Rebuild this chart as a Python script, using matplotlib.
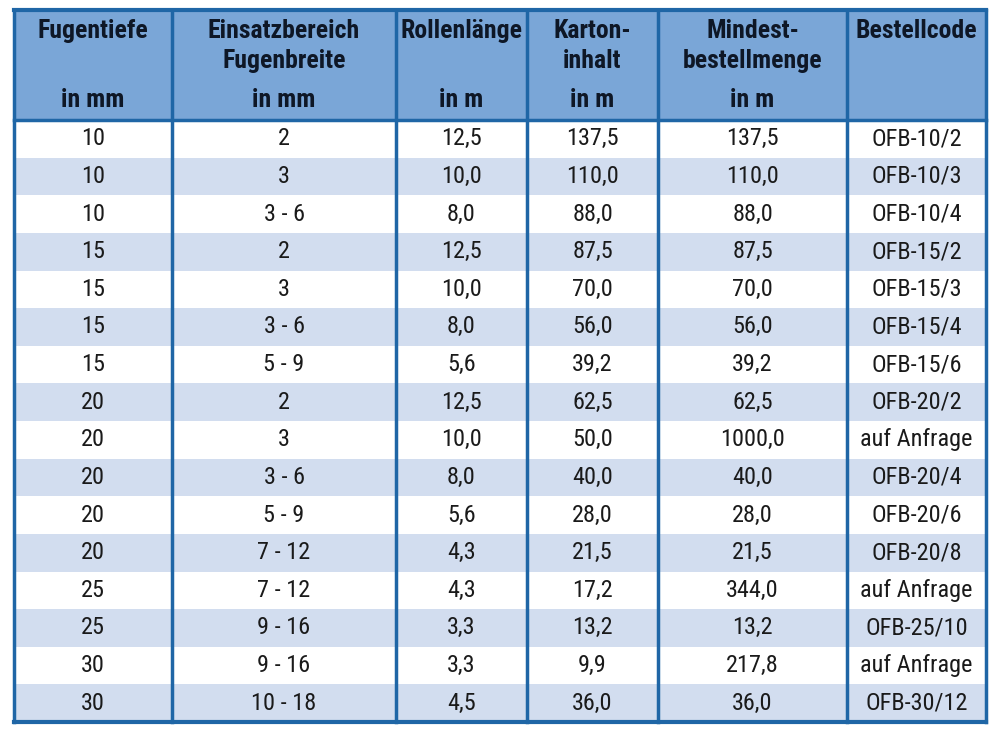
import matplotlib.pyplot as plt
from matplotlib.patches import Rectangle

# table content
fugentiefe = ["10", "10", "10", "15", "15", "15", "15", "20", "20", "20", "20", "20", "25", "25", "30", "30"]
fugenbreite = ["2", "3", "3 - 6", "2", "3", "3 - 6", "5 - 9", "2", "3", "3 - 6", "5 - 9", "7 - 12", "7 - 12", "9 - 16", "9 - 16", "10 - 18"]
rollenlaenge = ["12,5", "10,0", "8,0", "12,5", "10,0", "8,0", "5,6", "12,5", "10,0", "8,0", "5,6", "4,3", "4,3", "3,3", "3,3", "4,5"]
kartoninhalt = ["137,5", "110,0", "88,0", "87,5", "70,0", "56,0", "39,2", "62,5", "50,0", "40,0", "28,0", "21,5", "17,2", "13,2", "9,9", "36,0"]
mindestmenge = ["137,5", "110,0", "88,0", "87,5", "70,0", "56,0", "39,2", "62,5", "1000,0", "40,0", "28,0", "21,5", "344,0", "13,2", "217,8", "36,0"]
bestellcode = ["OFB-10/2", "OFB-10/3", "OFB-10/4", "OFB-15/2", "OFB-15/3", "OFB-15/4", "OFB-15/6", "OFB-20/2", "auf Anfrage", "OFB-20/4",
               "OFB-20/6", "OFB-20/8", "auf Anfrage", "OFB-25/10", "auf Anfrage", "OFB-30/12"]

header_top = [["Fugentiefe"], ["Einsatzbereich", "Fugenbreite"], ["Rollenlänge"], ["Karton-", "inhalt"],
              ["Mindest-", "bestellmenge"], ["Bestellcode"]]
header_unit = ["in mm", "in mm", "in m", "in m", "in m", ""]

columns = [fugentiefe, fugenbreite, rollenlaenge, kartoninhalt, mindestmenge, bestellcode]

# layout in pixels
col_edges = [14, 172, 396, 527, 658, 847, 986]
top, head_bottom, bottom = 10, 120, 722
row_h = (bottom - head_bottom) / len(fugentiefe)

border = "#1f66a6"
head_bg = "#7aa6d7"
stripe = "#d2ddef"
font = ["Roboto Condensed", "Liberation Sans", "DejaVu Sans"]

fig = plt.figure(figsize=(10, 7.36), dpi=100)
ax = fig.add_axes([0, 0, 1, 1])
ax.set_xlim(0, 1000)
ax.set_ylim(736, 0)
ax.axis("off")

# header background
ax.add_patch(Rectangle((col_edges[0], top), col_edges[-1] - col_edges[0], head_bottom - top,
                       facecolor=head_bg, edgecolor="none"))

# striped rows
for i in range(len(fugentiefe)):
    y0 = head_bottom + i * row_h
    if i % 2 == 1:
        ax.add_patch(Rectangle((col_edges[0], y0), col_edges[-1] - col_edges[0], row_h,
                               facecolor=stripe, edgecolor="none"))

# header text
for j, lines in enumerate(header_top):
    cx = (col_edges[j] + col_edges[j + 1]) / 2
    for k, line in enumerate(lines):
        ax.text(cx, 31 + k * 30, line, ha="center", va="center", fontsize=18.5,
                fontweight="heavy", family=font, color="#0e1726")
    if header_unit[j]:
        ax.text(cx, 100, header_unit[j], ha="center", va="center", fontsize=18.5,
                fontweight="heavy", family=font, color="#0e1726")

# body text
for j, col in enumerate(columns):
    cx = (col_edges[j] + col_edges[j + 1]) / 2
    for i, val in enumerate(col):
        cy = head_bottom + (i + 0.5) * row_h
        ax.text(cx, cy, val, ha="center", va="center", fontsize=17.5,
                family=font, color="#1a1a1a")

# grid lines
for x in col_edges:
    ax.plot([x, x], [top, bottom], color=border, lw=2.5, solid_capstyle="projecting")
ax.plot([col_edges[0], col_edges[-1]], [top, top], color=border, lw=3)
ax.plot([col_edges[0], col_edges[-1]], [head_bottom, head_bottom], color=border, lw=2.5)
ax.plot([col_edges[0], col_edges[-1]], [bottom, bottom], color=border, lw=3)

fig.savefig("out.png", dpi=100)
